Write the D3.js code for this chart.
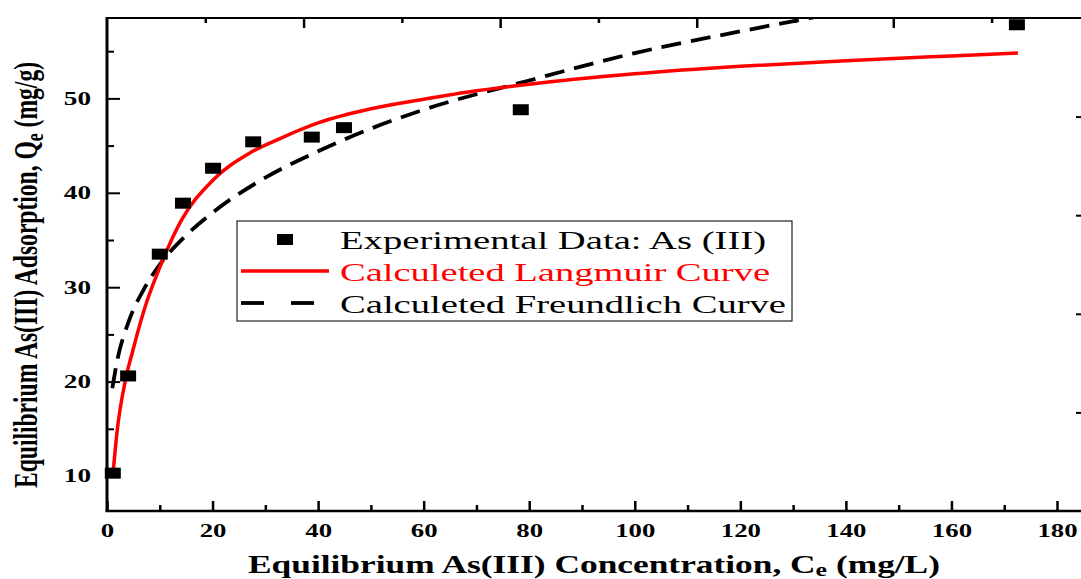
<!DOCTYPE html>
<html>
<head>
<meta charset="utf-8">
<script src="https://cdn.jsdelivr.net/npm/d3@7"></script>
<style>
  html, body { margin: 0; padding: 0; background: #fff; }
  svg { display: block; }
</style>
</head>
<body>
<svg id="chart" width="1081" height="579"></svg>
<script>
// experimental points, Ce (mg/L) and Qe (mg/g)
const expCe = [1.1, 4.0, 10.0, 14.4, 20.1, 27.7, 38.8, 44.9, 78.4, 172.4];
const expQe = [10.3, 20.6, 33.5, 38.9, 42.6, 45.4, 45.9, 46.9, 48.8, 57.8];

// calculated Langmuir curve
const langCe = [1.1, 1.95, 3.4, 4.9, 7.5, 10, 14, 20, 27, 33, 40, 50, 60, 70, 80, 100, 120, 140, 160, 172.6];
const langQe = [10.0, 14.9, 19.9, 23.3, 28.4, 32.1, 37.0, 41.3, 44.2, 45.8, 47.4, 48.9, 49.9, 50.8, 51.5, 52.6, 53.4, 54.0, 54.5, 54.8];

// calculated Freundlich curve (runs out of the top of the frame)
const freuCe = [1.0, 2, 4, 7, 10, 15, 20, 30, 40, 50, 60, 80, 100, 120, 133, 140];
const freuQe = [19.3, 22.4, 26.2, 29.8, 32.4, 35.5, 37.9, 41.6, 44.4, 46.8, 48.8, 51.9, 54.8, 57.1, 58.5, 59.2];

const xMajor = [0, 20, 40, 60, 80, 100, 120, 140, 160, 180];
const xMinor = [10, 30, 50, 70, 90, 110, 130, 150, 170];
const yMajor = [10, 20, 30, 40, 50];
const yMinor = [15, 25, 35, 45, 55];

const legendLabels = ["Experimental Data: As (III)", "Calculeted Langmuir Curve", "Calculeted Freundlich Curve"];

const svg = d3.select("#chart");
const pLeft = 107, pRight = 1081, pTop = 18, pBottom = 511;
const serif = "'Liberation Serif', 'Times New Roman', serif";

const x = d3.scaleLinear().domain([0, 180]).range([107, 1057]);
const y = d3.scaleLinear().domain([10, 50]).range([476, 98.4]);
// the frame's top and right edges carry their own plain ticks
const xTop = d3.scaleLinear().domain([0, 99.1]).range([pLeft, pRight]);
const yRight = d3.scaleLinear().domain([0, 5]).range([pBottom, pTop]);

// clip the curves to the frame
svg.append("defs").append("clipPath").attr("id", "plotClip")
    .append("rect").attr("x", pLeft).attr("y", pTop)
    .attr("width", pRight - pLeft).attr("height", pBottom - pTop);

// bottom axis
const gx = svg.append("g").attr("transform", `translate(0,${pBottom})`)
    .call(d3.axisBottom(x).tickValues(xMajor).tickSize(-10).tickFormat(d3.format("d")));
gx.append("g").call(d3.axisBottom(x).tickValues(xMinor).tickSize(-6).tickFormat(""));
gx.selectAll(".tick line").attr("stroke", "#000").attr("stroke-width", 2.5);
gx.selectAll(".tick text")
    .attr("y", 26).attr("dy", 0)
    .attr("font-family", serif).attr("font-weight", "bold").attr("font-size", 18)
    .attr("fill", "#000")
    .attr("textLength", (d) => String(d).length * 13.4)
    .attr("lengthAdjust", "spacingAndGlyphs");

// left axis
const gy = svg.append("g").attr("transform", `translate(${pLeft},0)`)
    .call(d3.axisLeft(y).tickValues(yMajor).tickSize(-13).tickFormat(d3.format("d")));
gy.append("g").call(d3.axisLeft(y).tickValues(yMinor).tickSize(-7).tickFormat(""));
gy.selectAll(".tick line").attr("stroke", "#000").attr("stroke-width", 2);
gy.selectAll(".tick text")
    .attr("x", -16).attr("dy", "0.33em")
    .attr("font-family", serif).attr("font-weight", "bold").attr("font-size", 18)
    .attr("fill", "#000")
    .attr("textLength", (d) => String(d).length * 13.6)
    .attr("lengthAdjust", "spacingAndGlyphs");

// top axis, no labels
const gt = svg.append("g").attr("transform", `translate(0,${pTop})`)
    .call(d3.axisTop(xTop).tickValues([20, 40, 60, 80]).tickSize(-10).tickFormat(""));
gt.append("g").call(d3.axisTop(xTop).tickValues([10, 30, 50, 70, 90]).tickSize(-5).tickFormat(""));
gt.selectAll(".tick line").attr("stroke", "#000").attr("stroke-width", 2.5);

// right axis, no labels
const gr = svg.append("g").attr("transform", `translate(${pRight},0)`)
    .call(d3.axisRight(yRight).tickValues([1, 2, 3, 4]).tickSize(-5).tickFormat(""));
gr.selectAll(".tick line").attr("stroke", "#000").attr("stroke-width", 2);

svg.selectAll(".domain").remove();

// frame
svg.append("line").attr("x1", pLeft).attr("x2", pRight).attr("y1", pTop).attr("y2", pTop)
    .attr("stroke", "#000").attr("stroke-width", 2);
svg.append("line").attr("x1", pLeft - 1.5).attr("x2", pRight).attr("y1", pBottom).attr("y2", pBottom)
    .attr("stroke", "#000").attr("stroke-width", 2.5);
svg.append("line").attr("x1", pLeft).attr("x2", pLeft).attr("y1", pTop - 1).attr("y2", pBottom)
    .attr("stroke", "#000").attr("stroke-width", 3);

// curves
const curveLine = d3.line().x((d) => x(d[0])).y((d) => y(d[1])).curve(d3.curveMonotoneX);
const plot = svg.append("g").attr("clip-path", "url(#plotClip)");

plot.append("path")
    .datum(freuCe.map((c, i) => [c, freuQe[i]]))
    .attr("d", curveLine)
    .attr("fill", "none")
    .attr("stroke", "#000")
    .attr("stroke-width", 3.8)
    .attr("stroke-dasharray", "20,10");

plot.append("path")
    .datum(langCe.map((c, i) => [c, langQe[i]]))
    .attr("d", curveLine)
    .attr("fill", "none")
    .attr("stroke", "#ff0000")
    .attr("stroke-width", 3.5);

// experimental points
svg.append("g")
    .selectAll("rect")
    .data(expCe.map((c, i) => [c, expQe[i]]))
    .enter()
    .append("rect")
    .attr("x", (d) => x(d[0]) - 8)
    .attr("y", (d) => y(d[1]) - 5.5)
    .attr("width", 16)
    .attr("height", 11)
    .attr("fill", "#000");

// legend
const legend = svg.append("g");
legend.append("rect").attr("x", 237).attr("y", 221).attr("width", 555).attr("height", 100)
    .attr("fill", "#fff").attr("stroke", "#222").attr("stroke-width", 1.2);
legend.append("rect").attr("x", 277).attr("y", 234).attr("width", 16).attr("height", 11).attr("fill", "#000");
legend.append("line").attr("x1", 241).attr("x2", 329).attr("y1", 271).attr("y2", 271)
    .attr("stroke", "#ff0000").attr("stroke-width", 3.5);
legend.append("line").attr("x1", 241).attr("x2", 264).attr("y1", 303).attr("y2", 303)
    .attr("stroke", "#000").attr("stroke-width", 3.8);
legend.append("line").attr("x1", 291).attr("x2", 314).attr("y1", 303).attr("y2", 303)
    .attr("stroke", "#000").attr("stroke-width", 3.8);

const legendWidths = [426, 430, 446];
const legendColors = ["#000", "#ff0000", "#000"];
legend.selectAll("text.lg")
    .data(legendLabels)
    .enter()
    .append("text")
    .attr("class", "lg")
    .attr("x", 340)
    .attr("y", (d, i) => 249 + i * 32)
    .attr("font-family", serif)
    .attr("font-size", 26)
    .attr("fill", (d, i) => legendColors[i])
    .attr("textLength", (d, i) => legendWidths[i])
    .attr("lengthAdjust", "spacingAndGlyphs")
    .text((d) => d);

// x axis title
const xt = svg.append("text")
    .attr("x", 248).attr("y", 573)
    .attr("font-family", serif).attr("font-weight", "bold").attr("font-size", 26)
    .attr("fill", "#000")
    .attr("textLength", 692).attr("lengthAdjust", "spacingAndGlyphs");
xt.append("tspan").text("Equilibrium As(III) Concentration, C");
xt.append("tspan").attr("font-size", 19).attr("dy", 3).text("e");
xt.append("tspan").attr("dy", -3).text(" (mg/L)");

// y axis title
const yt = svg.append("text")
    .attr("transform", "translate(37,275) rotate(-90)")
    .attr("text-anchor", "middle")
    .attr("font-family", serif).attr("font-weight", "bold").attr("font-size", 33)
    .attr("fill", "#000")
    .attr("textLength", 426).attr("lengthAdjust", "spacingAndGlyphs");
yt.append("tspan").text("Equilibrium As(III) Adsorption, Q");
yt.append("tspan").attr("font-size", 25).attr("dy", 6).text("e");
yt.append("tspan").attr("dy", -6).text(" (mg/g)");
</script>
</body>
</html>
